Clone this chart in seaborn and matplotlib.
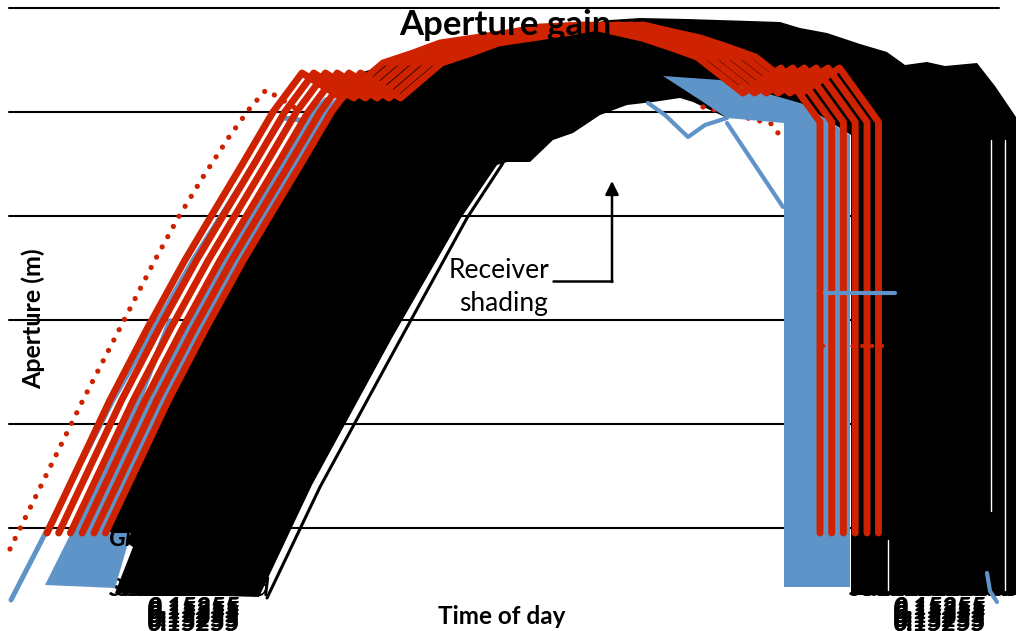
# Aperture gain over the day, with receiver shading

import matplotlib
matplotlib.use('Agg')
import matplotlib.pyplot as plt
import seaborn as sns

# Time of day runs along x, aperture along y (both in plot units, no tick labels in the chart)
grid_levels = [103, 207, 311, 415, 519, 623]

# Red solid curve, the others are the same curve later in the day
red_x = [47, 110, 147, 185, 213, 243, 273, 302, 342, 383, 413, 440, 507, 540, 585, 615, 642, 672, 697, 743, 781, 820, 820]
red_y = [98, 231, 302, 371, 418, 468, 519, 558, 533, 568, 578, 588, 598, 604, 606, 599, 593, 583, 574, 538, 563, 509, 98]
red_shifts = [0, 11.7, 23.4, 35.2, 47, 58.5]

# Red dotted curve
dot_x = [10, 83, 155, 178, 203, 229, 250, 266, 276, 286, 295]
dot_y = [82, 231, 371, 413, 454, 494, 523, 541, 535, 529, 523]
dot_right_x = [703, 772, 778, 783]
dot_right_y = [524, 507, 498, 488]
dot_flat_x = [823, 890]
dot_flat_y = [285, 285]

# Blue curves
blue_x = [11, 46, 113, 193, 283, 300]
blue_y = [31, 99, 231, 371, 513, 511]
blue_rise_x = [47, 110, 147, 185, 213, 243, 273, 285]
blue_rise_y = [98, 231, 302, 371, 418, 468, 519, 531]
blue_shifts = [41, 53]
blue_low_x = [76, 139, 170]
blue_low_y = [98, 231, 310]
blue_dip_x = [648, 665, 688, 705, 727]
blue_dip_y = [528, 516, 494, 506, 513]
blue_fall_x = [727, 783]
blue_fall_y = [508, 424]
blue_flat_x = [825, 895]
blue_flat_y = [338, 338]
blue_tail_x = [987, 990, 997]
blue_tail_y = [58, 40, 29]

# Blue filled areas
blue_foot_x = [45, 71, 131, 115]
blue_foot_y = [46, 98, 98, 43]
blue_body_x = [663, 720, 800, 850, 850, 784, 784, 727, 700]
blue_body_y = [555, 551, 528, 496, 44, 44, 508, 513, 531]

# Black mass of the remaining curves
black_x = [105, 168, 205, 243, 271, 301, 331, 360, 400, 460, 520, 570, 610, 640, 687, 750, 780, 800, 827, 860, 887,
           905, 927, 945, 977, 995, 1016,
           1016, 851, 851, 800, 727, 693, 680, 653, 627, 600, 573, 553, 530, 507, 497, 461, 392, 312, 259, 115, 133, 110]
black_y = [98, 231, 302, 371, 418, 468, 519, 558, 571, 586, 596, 604, 611, 613, 612, 610, 609, 603, 598, 587, 579,
           566, 569, 565, 568, 545, 514,
           36, 36, 496, 528, 513, 529, 533, 529, 526, 516, 498, 491, 469, 469, 466, 413, 293, 146, 34, 38, 84, 99]
edge_x = [267, 320, 400, 467, 503]
edge_y = [33, 144, 291, 413, 468]
gap_lines = [[(991, 491), (991, 120)], [(1005, 491), (1005, 41)], [(888, 91), (888, 41)]]

# Overprinted axis labels
standard_left_x = [108, 116, 124, 132, 140, 148, 156, 164, 172]
standard_right_x = [848, 862, 876, 890, 904, 918, 932, 946]
number_left_x = [147, 148]
number_right_x = [893, 894]
number_y = [8, 12, 16, 20, 24]

red = '#cf2200'
blue = '#5f94c8'
sans = ['Lato', 'DejaVu Sans']

sns.set_theme(style='white')
plt.rcParams['font.family'] = sans

fig, ax = plt.subplots(figsize=(10.16, 6.31), dpi=100)
ax.set_position([0, 0, 1, 1])
ax.set_xlim(0, 1016)
ax.set_ylim(0, 631)
ax.axis('off')

for level in grid_levels:
    ax.plot([9, 999 if level == 623 else 993], [level, level], color='black', lw=1.5, zorder=1)

# black first, blue and red go over it
ax.fill(black_x, black_y, color='black', lw=0, zorder=2)
for gap in gap_lines:
    ax.plot([gap[0][0], gap[1][0]], [gap[0][1], gap[1][1]], color='white', lw=1, zorder=2.2)
sns.lineplot(x=edge_x, y=edge_y, sort=False, estimator=None, color='black', lw=2.2, ax=ax, zorder=2)

for x in standard_left_x + standard_right_x:
    ax.text(x, 42, 'Standard', fontsize=18, fontweight='bold', style='italic', va='center', zorder=2.1, color='black')
for x in number_left_x + number_right_x:
    for y in number_y:
        ax.text(x, y, '0,15255', fontsize=18, fontweight='bold', style='italic', va='center', zorder=2.1, color='black')
ax.text(109, 93, 'Gr', fontsize=18, fontweight='bold', style='italic', va='center', zorder=3.2, color='black')

sns.lineplot(x=dot_right_x, y=dot_right_y, sort=False, estimator=None, color=red, lw=3.8, ax=ax, zorder=2.9,
             linestyle=(0, (0.01, 2.2)), dash_capstyle='round')

ax.fill(blue_foot_x, blue_foot_y, color=blue, lw=0, zorder=3)
ax.fill(blue_body_x, blue_body_y, color=blue, lw=0, zorder=3)
sns.lineplot(x=blue_x, y=blue_y, sort=False, estimator=None, color=blue, lw=3.6, ax=ax, zorder=3)
for shift in blue_shifts:
    sns.lineplot(x=[v + shift for v in blue_rise_x], y=blue_rise_y, sort=False, estimator=None,
                 color=blue, lw=4, ax=ax, zorder=3)
sns.lineplot(x=blue_low_x, y=blue_low_y, sort=False, estimator=None, color=blue, lw=4, ax=ax, zorder=3)
for xs, ys in [(blue_dip_x, blue_dip_y), (blue_fall_x, blue_fall_y), (blue_tail_x, blue_tail_y)]:
    sns.lineplot(x=xs, y=ys, sort=False, estimator=None, color=blue, lw=3, ax=ax, zorder=3)

sns.lineplot(x=dot_x, y=dot_y, sort=False, estimator=None, color=red, lw=3.8, ax=ax, zorder=3.5,
             linestyle=(0, (0.01, 2.2)), dash_capstyle='round')

for shift in red_shifts:
    sns.lineplot(x=[v + shift for v in red_x], y=red_y, sort=False, estimator=None, color=red, lw=5, ax=ax,
                 zorder=4, solid_capstyle='round', solid_joinstyle='round')

# these two run across the red verticals
sns.lineplot(x=blue_flat_x, y=blue_flat_y, sort=False, estimator=None, color=blue, lw=3, ax=ax, zorder=4.5)
sns.lineplot(x=dot_flat_x, y=dot_flat_y, sort=False, estimator=None, color=red, lw=3.2, ax=ax, zorder=4.5,
             linestyle=(0, (0.01, 2.2)), dash_capstyle='round')

# Receiver shading note
ax.plot([553, 612], [350, 350], color='black', lw=1.8, zorder=5)
ax.annotate('', xy=(612, 450), xytext=(612, 349), zorder=5,
            arrowprops=dict(arrowstyle='-|>', color='black', lw=1.8, mutation_scale=20, shrinkA=0, shrinkB=0))
ax.text(499, 361, 'Receiver', fontsize=19, ha='center', va='center', color='black', zorder=5)
ax.text(504, 327, 'shading', fontsize=19, ha='center', va='center', color='black', zorder=5)

ax.text(505, 606, 'Aperture gain', fontsize=25, fontweight='bold', ha='center', va='center', color='black', zorder=6)
ax.text(502, 15, 'Time of day', fontsize=17.5, fontweight='bold', ha='center', va='center', color='black', zorder=6)
ax.text(33, 312, 'Aperture (m)', fontsize=18, fontweight='bold', rotation=90, ha='center', va='center', color='black', zorder=6)

fig.savefig('out.png', dpi=100)
plt.close()
